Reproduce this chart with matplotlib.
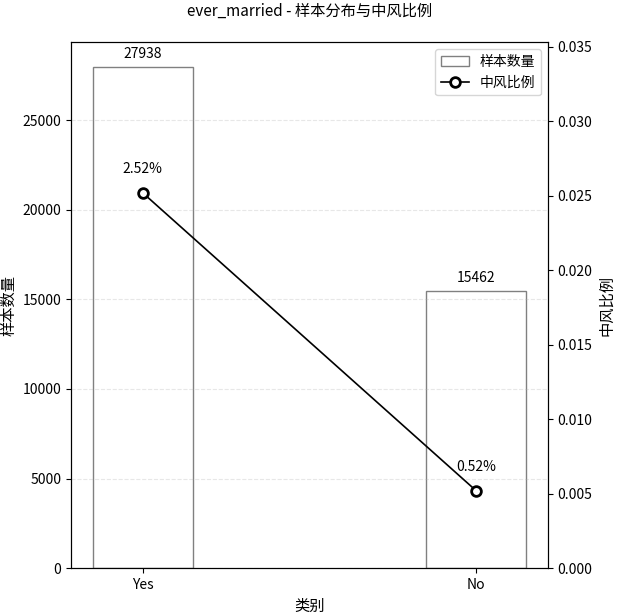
import matplotlib
matplotlib.use("Agg")
import matplotlib.pyplot as plt
import numpy as np

plt.rcParams['font.family'] = ['Noto Sans CJK SC', 'DejaVu Sans']
plt.rcParams['axes.unicode_minus'] = False

categories = ["Yes", "No"]
counts = [27938, 15462]
stroke_rates = [0.0252, 0.0052]

fig, ax1 = plt.subplots(figsize=(6.17, 6.13), dpi=100)
x = np.arange(len(categories))

# bars for sample counts
bars = ax1.bar(x, counts, width=0.3, color="white", edgecolor="gray", label="样本数量")
for b, c in zip(bars, counts):
    ax1.text(b.get_x() + b.get_width() / 2, c + 350, str(c), ha="center", va="bottom", fontsize=10)
ax1.set_xticks(x)
ax1.set_xticklabels(categories)
ax1.set_xlabel("类别", fontsize=11)
ax1.set_ylabel("样本数量", fontsize=11)
ax1.grid(axis="y", linestyle="--", alpha=0.3)

# stroke ratio on twin axis
ax2 = ax1.twinx()
line, = ax2.plot(x, stroke_rates, color="black", marker="o", markerfacecolor="white",
                 markeredgewidth=2, markersize=7, linewidth=1.2, label="中风比例")
for xi, r in zip(x, stroke_rates):
    ax2.annotate(f"{r*100:.2f}%", (xi, r), textcoords="offset points", xytext=(0, 14),
                 ha="center", fontsize=10)
ax2.set_ylim(0, 0.0353)
ax2.set_ylabel("中风比例", fontsize=11)

h1, l1 = ax1.get_legend_handles_labels()
h2, l2 = ax2.get_legend_handles_labels()
ax1.legend(h1 + h2, l1 + l2, loc="upper right")

ax1.set_title("ever_married - 样本分布与中风比例", fontsize=11, pad=19)
fig.subplots_adjust(left=0.115, right=0.888, top=0.931, bottom=0.073)
fig.savefig("out.png", dpi=100)
